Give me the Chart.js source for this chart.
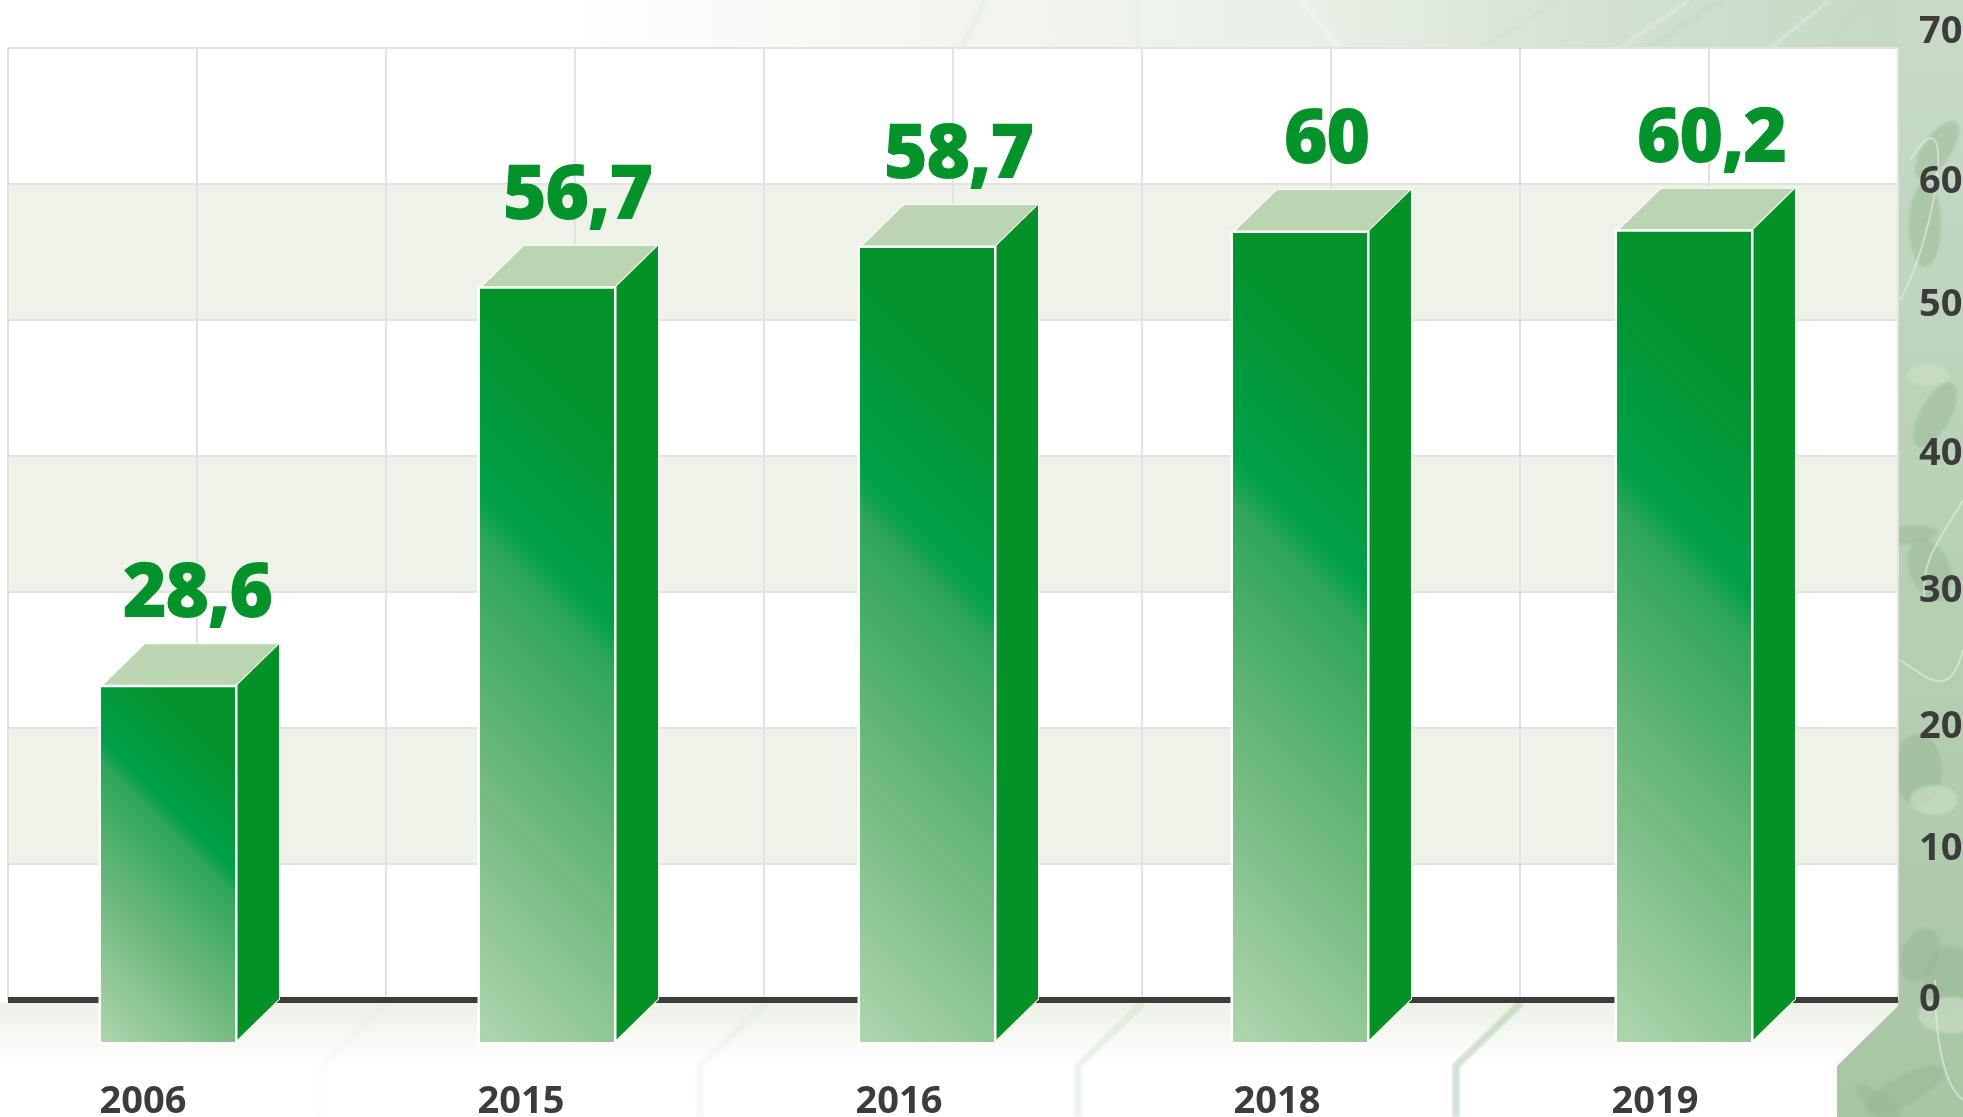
<!DOCTYPE html>
<html><head><meta charset="utf-8">
<style>html,body{margin:0;padding:0;background:#fff}canvas{display:block}</style>
<script src="https://cdn.jsdelivr.net/npm/chart.js@4"></script>
</head><body>
<canvas id="c" width="1963" height="1117"></canvas>
<script>
// Data
const categories = ["2006","2015","2016","2018","2019"];
const printedValues = ["28,6","56,7","58,7","60","60,2"];        // numbers printed above the bars
const barHeights = [26.3,55.6,58.6,59.7,59.8];                   // bar tops as read against the right axis
const yTickValues = [0,10,20,30,40,50,60,70];
const paleBands = [[10,20],[30,40],[50,60]];

// Style
const DEPTH_X = 44, DEPTH_Y = 43, FRONT_DROP = 45, SHIFT_X = -28;
const FONT = '"Open Sans", sans-serif';
const tickNudge = {70:-16,60:-2,50:-15,40:-2,30:-1,20:-1,10:-15,0:0};
const barShiftPx = [-1,0,2,-3,3];
const labelShiftPx = [0,2,5,-5,2];

function frontGradient(chart, i){
  const s = chart.scales;
  if(!chart.chartArea || !s || !s.x || !s.y) return '#049226';
  const w = s.x.width/categories.length*0.3545;
  const right = s.x.getPixelForValue(i)+w/2, top = s.y.getPixelForValue(barHeights[i]), bottom = s.y.getPixelForValue(0);
  const h = bottom-top, d=(w+h)/2;
  const g = chart.ctx.createLinearGradient(right,top,right-d,top+d);
  g.addColorStop(0,'#04922a'); g.addColorStop(0.14,'#04922a'); g.addColorStop(0.38,'#00a049');
  g.addColorStop(0.43,'#2fa65c'); g.addColorStop(0.7,'#72ba80'); g.addColorStop(1,'#b0d6ae');
  return g;
}

function leaf(ctx,x,y,rx,ry,rot,col){
  ctx.fillStyle=col; ctx.beginPath(); ctx.ellipse(x,y,rx,ry,rot,0,Math.PI*2); ctx.fill();
}
function curve(ctx,pts,col,lw){
  ctx.strokeStyle=col; ctx.lineWidth=lw; ctx.beginPath(); ctx.moveTo(pts[0],pts[1]);
  ctx.bezierCurveTo(pts[2],pts[3],pts[4],pts[5],pts[6],pts[7]); ctx.stroke();
}

const backdrop = {
  id:'backdrop',
  beforeDraw(chart){
    const ctx=chart.ctx, a=chart.chartArea, y=chart.scales.y, W=chart.width, H=chart.height;
    ctx.save();
    ctx.fillStyle='#fff'; ctx.fillRect(0,0,W,H);
    // top strip
    let g=ctx.createLinearGradient(560,0,1920,0);
    g.addColorStop(0,'#ffffff'); g.addColorStop(0.25,'#f5f7f1'); g.addColorStop(0.55,'#e9f0e6');
    g.addColorStop(0.78,'#d2e1d1'); g.addColorStop(1,'#c3d8c2');
    ctx.fillStyle=g; ctx.fillRect(0,0,W,a.top);
    // streaks in the top strip
    ctx.save(); ctx.beginPath(); ctx.rect(0,0,W,a.top-1); ctx.clip();
    ctx.filter='blur(1.5px)';
    [[960,50,985,0],[1050,48,1080,0],[1138,50,1138,0],[1340,48,1300,0],[1480,48,1560,0],[1620,48,1690,0],[1650,48,1720,0],[1770,48,1830,0],[1820,48,1870,0]]
      .forEach((p,i)=>{ctx.strokeStyle=i%2?'rgba(255,255,255,.3)':'rgba(170,198,170,.14)';ctx.lineWidth=i%3?3:6;ctx.beginPath();ctx.moveTo(p[0],p[1]);ctx.lineTo(p[2],p[3]);ctx.stroke();});
    ctx.filter='none';
    ctx.restore();
    // fade under the zero line
    g=ctx.createLinearGradient(0,1003,0,1062);
    g.addColorStop(0,'#edf1e6'); g.addColorStop(0.5,'#f6f8f2'); g.addColorStop(1,'#ffffff');
    ctx.fillStyle=g; ctx.fillRect(0,1003,1900,60);
    // faint folds under the chart
    ctx.filter='blur(1px)';
    [[387,.06],[765,.1],[1143,.22],[1521,.55]].forEach(([x,o])=>{
      ctx.strokeStyle='rgba(170,205,170,'+o+')'; ctx.lineWidth=7;
      ctx.beginPath(); ctx.moveTo(x,1003); ctx.lineTo(x-65,1066); ctx.lineTo(x-65,1117); ctx.stroke();
    });
    ctx.filter='none';
    // right strip + lower right corner
    g=ctx.createLinearGradient(0,0,0,H);
    g.addColorStop(0,'#c8dbc7'); g.addColorStop(0.45,'#b9d1b7'); g.addColorStop(1,'#a7c6a3');
    ctx.fillStyle=g;
    ctx.beginPath(); ctx.moveTo(1898,0); ctx.lineTo(W,0); ctx.lineTo(W,H); ctx.lineTo(1837,H);
    ctx.lineTo(1837,1066); ctx.lineTo(1898,1006); ctx.closePath(); ctx.fill();
    ctx.save(); ctx.clip();
    ctx.filter='blur(1.5px)';
    const dark='rgba(150,182,148,.5)', pale='rgba(205,223,200,.65)';
    leaf(ctx,1937,150,14,34,0.6,dark); leaf(ctx,1925,225,16,42,0,dark);
    leaf(ctx,1935,415,15,36,0.5,dark); leaf(ctx,1928,375,21,11,0,pale);
    leaf(ctx,1910,535,28,9,-0.1,dark); leaf(ctx,1930,570,20,32,-0.4,dark);
    leaf(ctx,1918,770,24,36,0,dark); leaf(ctx,1934,800,24,15,0,pale);
    leaf(ctx,1950,980,26,34,0,dark); leaf(ctx,1920,955,18,28,0.4,dark); leaf(ctx,1950,1015,32,18,0,pale);
    leaf(ctx,1905,1090,44,14,-0.5,dark); leaf(ctx,1880,1105,30,10,0.7,dark);
    ctx.filter='none';
    curve(ctx,[1910,160,1960,80,1935,240,1900,300],'rgba(228,240,226,.6)',2);
    curve(ctx,[1963,500,1940,540,1920,560,1925,600],'rgba(228,240,226,.6)',2);
    curve(ctx,[1900,660,1930,680,1950,700,1963,650],'rgba(228,240,226,.6)',2);
    curve(ctx,[1935,980,1935,1060,1950,1090,1963,1100],'rgba(228,240,226,.6)',2);
    ctx.restore();
    // plot area and pale bands
    ctx.fillStyle='#fff'; ctx.fillRect(a.left,a.top,a.right-a.left,a.bottom-a.top);
    ctx.fillStyle='#eff2e9';
    paleBands.forEach(([lo,hi])=>{
      const t=y.getPixelForValue(hi), b=y.getPixelForValue(lo);
      ctx.fillRect(a.left,t,a.right-a.left,b-t);
    });
    ctx.restore();
    // per-tick label offsets of the right axis
    y.getLabelItems().forEach(it=>{
      if(it.__n) return; it.__n=true;
      it.options.translation[1]+=(tickNudge[parseInt(it.label)]||0);
    });
  }
};

const bars3d = {
  id:'bars3d',
  afterDatasetsUpdate(chart){
    chart.getDatasetMeta(0).data.forEach((b,i)=>{ b.x+=barShiftPx[i]; });
  },
  beforeDatasetDraw(chart){
    const ctx=chart.ctx;
    ctx.save();
    chart.getDatasetMeta(0).data.forEach(b=>{
      const w=b.width, l=b.x-w/2+SHIFT_X, r=l+w, t=b.y+FRONT_DROP, bt=b.base+FRONT_DROP;
      ctx.lineJoin='miter'; ctx.strokeStyle='#fff'; ctx.lineWidth=2;
      ctx.fillStyle='#bad5b0';
      ctx.beginPath(); ctx.moveTo(l,t); ctx.lineTo(l+DEPTH_X,t-DEPTH_Y); ctx.lineTo(r+DEPTH_X,t-DEPTH_Y); ctx.lineTo(r,t); ctx.closePath(); ctx.stroke(); ctx.fill();
      ctx.fillStyle='#049226';
      ctx.beginPath(); ctx.moveTo(r,t); ctx.lineTo(r+DEPTH_X,t-DEPTH_Y); ctx.lineTo(r+DEPTH_X,bt-DEPTH_Y); ctx.lineTo(r,bt); ctx.closePath(); ctx.stroke(); ctx.fill();
      ctx.lineWidth=5;
      ctx.beginPath(); ctx.rect(l,t,w,bt-t); ctx.stroke();
    });
    ctx.translate(SHIFT_X,FRONT_DROP);
  },
  afterDatasetDraw(chart){
    const ctx=chart.ctx;
    ctx.restore();
    ctx.save();
    ctx.font='800 76px '+FONT; ctx.letterSpacing='-2px'; ctx.fillStyle='#04922a'; ctx.textAlign='center'; ctx.textBaseline='alphabetic';
    const s=chart.scales;
    printedValues.forEach((t,i)=>ctx.fillText(t,s.x.getPixelForValue(i)+labelShiftPx[i],s.y.getPixelForValue(barHeights[i])-25));
    ctx.restore();
  }
};

new Chart(document.getElementById('c'),{
  type:'bar',
  data:{labels:categories,datasets:[{
    data:barHeights,
    backgroundColor:c=>frontGradient(c.chart,c.dataIndex),
    borderColor:'rgba(0,0,0,0)',borderWidth:0,
    categoryPercentage:1,barPercentage:0.3545,clip:false
  }]},
  plugins:[backdrop,bars3d],
  options:{
    responsive:false,animation:false,
    layout:{padding:{top:48,left:8,right:0,bottom:0}},
    plugins:{legend:{display:false},tooltip:{enabled:false},title:{display:false}},
    scales:{
      x:{type:'category',position:'bottom',
        grid:{display:false,drawTicks:false},border:{display:false},
        ticks:{autoSkip:false,maxRotation:0,labelOffset:-54,padding:79,color:'#3c3c3b',font:{family:FONT,size:38,weight:'700'}},
        afterFit:s=>{s.height=117}},
      xg:{type:'linear',position:'bottom',min:0,max:10,offset:false,
        grid:{offset:false,color:'#e2e3df',lineWidth:2,drawTicks:false},border:{display:false},
        ticks:{display:false,stepSize:1},
        afterFit:s=>{s.height=0}},
      y:{type:'linear',position:'right',min:0,max:70,
        afterBuildTicks:s=>{s.ticks=yTickValues.map(v=>({value:v}))},
        grid:{drawTicks:false,color:c=>c.tick.value===0?'#3c3c3b':'#e2e3df',lineWidth:c=>c.tick.value===0?6:2},
        border:{display:false},
        ticks:{padding:21,color:'#3c3c3b',font:{family:FONT,size:38,weight:'700'}},
        afterFit:s=>{s.width=65}}
    }
  }
});
</script>
</body></html>
